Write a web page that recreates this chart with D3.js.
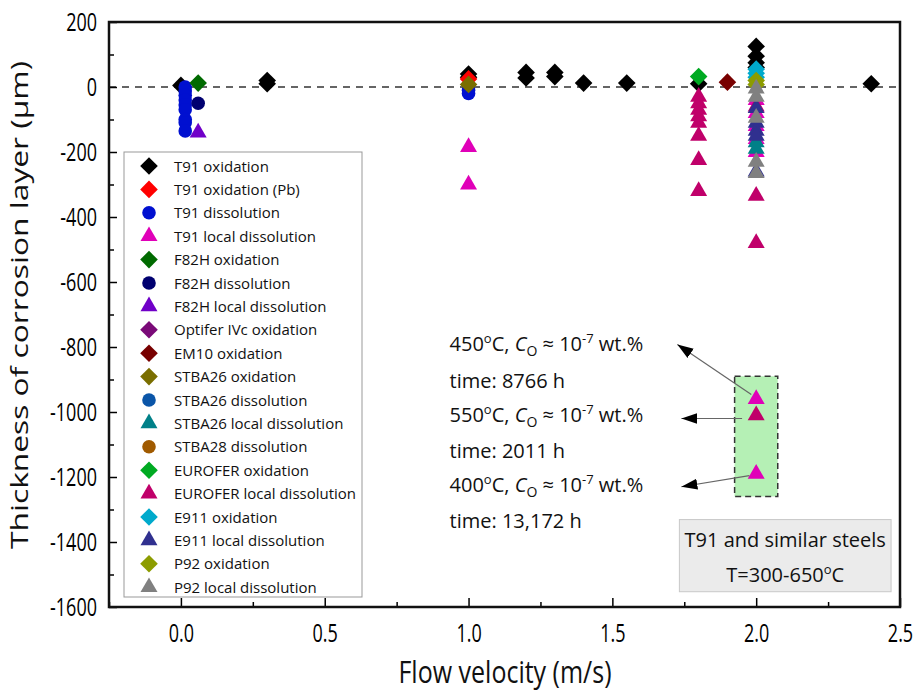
<!DOCTYPE html>
<html><head><meta charset="utf-8">
<script src="https://cdn.jsdelivr.net/npm/d3@7"></script>
<style>body{margin:0;background:#fff;} svg{display:block;font-family:"Open Sans",sans-serif;}</style>
</head><body><svg id="c" width="917" height="692"></svg>
<script>
// ---------- data ----------
const seriesNames = ["T91 oxidation","T91 oxidation (Pb)","T91 dissolution","T91 local dissolution","F82H oxidation","F82H dissolution","F82H local dissolution","Optifer IVc oxidation","EM10 oxidation","STBA26 oxidation","STBA26 dissolution","STBA26 local dissolution","STBA28 dissolution","EUROFER oxidation","EUROFER local dissolution","E911 oxidation","E911 local dissolution","P92 oxidation","P92 local dissolution"];
const seriesShapes = ["diamond","diamond","circle","triangle","diamond","circle","triangle","diamond","diamond","diamond","circle","triangle","circle","diamond","triangle","diamond","triangle","diamond","triangle"];
const seriesColors = ["#000000","#ff0000","#0010d0","#e000b8","#006a00","#000070","#7000c8","#7a0a78","#780000","#7a6e00","#0a55a8","#008088","#a05a00","#00aa22","#c0006a","#00aacc","#30308f","#8c9c00","#808080"];

const t91Oxidation = [[0,5],[0.3,10],[0.3,20],[1.0,40],[1.0,30],[1.2,45],[1.2,28],[1.3,45],[1.3,32],[1.4,12],[1.55,12],[1.8,10],[2.0,125],[2.0,95],[2.0,75],[2.0,60],[2.4,10]];
const t91OxidationPb = [[1.0,25]];
const t91Dissolution = [[0.015,0],[0.015,-12],[0.015,-25],[0.015,-40],[0.015,-55],[0.015,-70],[0.015,-100],[0.015,-110],[0.015,-135],[1.0,-10],[1.0,-20]];
const t91LocalDissolution = [[1.0,-185],[1.0,-300],[2.0,-40],[2.0,-80],[2.0,-120],[2.0,-160],[2.0,-200],[2.0,-960],[2.0,-1190]];
const f82hOxidation = [[0.06,12]];
const f82hDissolution = [[0.06,-50]];
const f82hLocalDissolution = [[0.06,-140]];
const optiferOxidation = [];
const em10Oxidation = [[1.9,15]];
const stba26Oxidation = [[1.0,8]];
const stba26Dissolution = [];
const stba26LocalDissolution = [[2.0,-170],[2.0,-190]];
const stba28Dissolution = [];
const euroferOxidation = [[1.8,32]];
const euroferLocalDissolution = [[1.8,-30],[1.8,-50],[1.8,-70],[1.8,-90],[1.8,-110],[1.8,-150],[1.8,-225],[1.8,-320],[2.0,-60],[2.0,-335],[2.0,-480],[2.0,-1010]];
const e911Oxidation = [[2.0,55],[2.0,42],[2.0,30]];
const e911LocalDissolution = [[2.0,-65],[2.0,-110],[2.0,-135],[2.0,-150],[2.0,-260]];
const p92Oxidation = [[2.0,20],[2.0,8]];
const p92LocalDissolution = [[2.0,-5],[2.0,-30],[2.0,-95],[2.0,-230],[2.0,-265]];

const seriesData = [t91Oxidation,t91OxidationPb,t91Dissolution,t91LocalDissolution,f82hOxidation,f82hDissolution,f82hLocalDissolution,optiferOxidation,em10Oxidation,stba26Oxidation,stba26Dissolution,stba26LocalDissolution,stba28Dissolution,euroferOxidation,euroferLocalDissolution,e911Oxidation,e911LocalDissolution,p92Oxidation,p92LocalDissolution];

const xMajorTicks = [0,0.5,1.0,1.5,2.0,2.5];
const xMinorTicks = [-0.25,0.25,0.75,1.25,1.75,2.25];
const yMajorTicks = [200,0,-200,-400,-600,-800,-1000,-1200,-1400,-1600];
const yMinorTicks = [100,-100,-300,-500,-700,-900,-1100,-1300,-1500];

// annotation anchors (data coordinates)
const highlightBox = {x0:1.925, x1:2.075, y0:-890, y1:-1260};
const noteBox = {x0:1.733, x1:2.469, y0:-1331, y1:-1553};
const arrows = [[[1.983,-946],[1.726,-792]],[[1.951,-1020],[1.740,-1020]],[[1.976,-1196],[1.740,-1230]]];
const notes = [
  {temp:"450", time:"time: 8766 h", y1:-811, y2:-925},
  {temp:"550", time:"time: 2011 h", y1:-1030, y2:-1141},
  {temp:"400", time:"time: 13,172 h", y1:-1245, y2:-1356}];
const noteX = 0.934;

// ---------- layout ----------
const svg = d3.select("#c");
const pLeft = 109, pRight = 900, pTop = 22, pBottom = 607;
const x = d3.scaleLinear().domain([-0.25,2.5]).range([pLeft,pRight]);
const y = d3.scaleLinear().domain([-1600,200]).range([pBottom,pTop]);

function shapePath(shape){
  if(shape==="diamond") return "M0,-8.8L8.8,0L0,8.8L-8.8,0Z";
  if(shape==="circle") return d3.symbol(d3.symbolCircle,145)();
  return d3.symbol(d3.symbolTriangle,125)();
}

// zero line
svg.append("line").attr("x1",pLeft).attr("x2",pRight).attr("y1",y(0)).attr("y2",y(0))
  .attr("stroke","#333").attr("stroke-width",1.5).attr("stroke-dasharray","7,6");

// highlight box
svg.append("rect").attr("x",x(highlightBox.x0)).attr("y",y(highlightBox.y0))
  .attr("width",x(highlightBox.x1)-x(highlightBox.x0)).attr("height",y(highlightBox.y1)-y(highlightBox.y0))
  .attr("fill","#b5f0b5").attr("stroke","#333").attr("stroke-width",1.5).attr("stroke-dasharray","6,4");

// axes
const gy = svg.append("g").attr("transform",`translate(${pLeft},0)`)
  .call(d3.axisLeft(y).tickValues(yMajorTicks).tickSizeInner(-8).tickSizeOuter(0).tickPadding(0).tickFormat(d=>String(d)));
gy.select(".domain").remove();
gy.selectAll(".tick line").attr("stroke","#000").attr("stroke-width",1.5);
gy.selectAll(".tick text").attr("x",null).attr("dy","0.36em").attr("font-size",18).attr("fill","#000")
  .attr("font-family","Open Sans").attr("text-anchor","end").attr("transform","translate(-12,0) scale(1,1.38)");
const gy2 = svg.append("g").attr("transform",`translate(${pLeft},0)`)
  .call(d3.axisLeft(y).tickValues(yMinorTicks).tickSizeInner(-5).tickSizeOuter(0).tickFormat(""));
gy2.select(".domain").remove();
gy2.selectAll(".tick line").attr("stroke","#000").attr("stroke-width",1.5);

const gx = svg.append("g").attr("transform",`translate(0,${pBottom})`)
  .call(d3.axisBottom(x).tickValues(xMajorTicks).tickSizeInner(-9).tickSizeOuter(0).tickPadding(0).tickFormat(d3.format(".1f")));
gx.select(".domain").remove();
gx.selectAll(".tick line").attr("stroke","#000").attr("stroke-width",1.5);
gx.selectAll(".tick text").attr("y",0).attr("dy",null).attr("font-size",18).attr("fill","#000")
  .attr("font-family","Open Sans").attr("transform","translate(0,35) scale(1,1.38)");
const gx2 = svg.append("g").attr("transform",`translate(0,${pBottom})`)
  .call(d3.axisBottom(x).tickValues(xMinorTicks).tickSizeInner(-5).tickSizeOuter(0).tickFormat(""));
gx2.select(".domain").remove();
gx2.selectAll(".tick line").attr("stroke","#000").attr("stroke-width",1.5);

// frame
svg.append("rect").attr("x",pLeft).attr("y",pTop).attr("width",pRight-pLeft).attr("height",pBottom-pTop)
  .attr("fill","none").attr("stroke","#111").attr("stroke-width",2.5);

// axis titles
svg.append("text").attr("transform","translate(505,683) scale(1,1.22)").attr("text-anchor","middle")
  .attr("font-size",25).attr("fill","#111").text("Flow velocity (m/s)");
svg.append("text").attr("transform","translate(28,305) rotate(-90) scale(1.38,1)").attr("text-anchor","middle")
  .attr("font-size",23).attr("fill","#111").text("Thickness of corrosion layer (μm)");

// note box
svg.append("rect").attr("x",x(noteBox.x0)).attr("y",y(noteBox.y0))
  .attr("width",x(noteBox.x1)-x(noteBox.x0)).attr("height",y(noteBox.y1)-y(noteBox.y0))
  .attr("fill","#ebebeb").attr("stroke","#c8c8c8").attr("stroke-width",1);
const nbx = (x(noteBox.x0)+x(noteBox.x1))/2;
svg.append("text").attr("x",nbx).attr("y",y(noteBox.y0)+27).attr("text-anchor","middle")
  .attr("font-size",20).attr("fill","#111").text("T91 and similar steels");
const t2 = svg.append("text").attr("x",nbx).attr("y",y(noteBox.y0)+62).attr("text-anchor","middle")
  .attr("font-size",20).attr("fill","#111");
t2.append("tspan").text("T=300-650");
t2.append("tspan").attr("dy",-8).attr("font-size",13).text("o");
t2.append("tspan").attr("dy",8).text("C");

// markers
seriesData.forEach((pts,i)=>{
  svg.append("g").selectAll("path").data(pts).join("path")
    .attr("d",shapePath(seriesShapes[i]))
    .attr("transform",d=>`translate(${x(d[0])},${y(d[1])})`)
    .attr("fill",seriesColors[i]);
});

// arrows
const defs = svg.append("defs");
defs.append("marker").attr("id","ah").attr("viewBox","0 -6 16 12").attr("refX",16).attr("refY",0)
  .attr("markerWidth",16).attr("markerHeight",12).attr("markerUnits","userSpaceOnUse").attr("orient","auto")
  .append("path").attr("d","M0,-5.5L16,0L0,5.5Z").attr("fill","#000");
arrows.forEach(a=>{
  svg.append("line").attr("x1",x(a[0][0])).attr("y1",y(a[0][1])).attr("x2",x(a[1][0])).attr("y2",y(a[1][1]))
    .attr("stroke","#666").attr("stroke-width",1.2).attr("marker-end","url(#ah)");
});

// notes
notes.forEach(n=>{
  const t = svg.append("text").attr("x",x(noteX)).attr("y",y(n.y1)).attr("font-size",20).attr("fill","#111");
  t.append("tspan").text(n.temp);
  t.append("tspan").attr("dy",-8).attr("font-size",13).text("o");
  t.append("tspan").attr("dy",8).text("C, ");
  t.append("tspan").attr("font-style","italic").text("C");
  t.append("tspan").attr("dy",5).attr("font-size",14).text("O");
  t.append("tspan").attr("dy",-5).text(" ≈ 10");
  t.append("tspan").attr("dy",-8).attr("font-size",13).text("-7");
  t.append("tspan").attr("dy",8).text(" wt.%");
  svg.append("text").attr("x",x(noteX)).attr("y",y(n.y2)).attr("font-size",20).attr("fill","#111").text(n.time);
});

// legend
const lg = svg.append("g");
lg.append("rect").attr("x",124).attr("y",152).attr("width",238).attr("height",445)
  .attr("fill","#fff").attr("stroke","#999").attr("stroke-width",1);
seriesNames.forEach((name,i)=>{
  const cy = 166 + i*23.4;
  lg.append("path").attr("d",shapePath(seriesShapes[i])).attr("transform",`translate(149,${cy})`).attr("fill",seriesColors[i]);
  lg.append("text").attr("x",174).attr("y",cy+5.5).attr("font-size",15).attr("fill","#111").text(name);
});
</script></body></html>
